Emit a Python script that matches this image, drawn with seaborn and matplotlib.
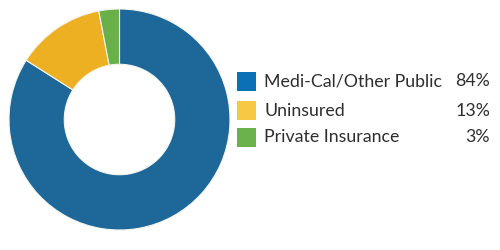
import matplotlib
matplotlib.use("Agg")
import matplotlib.pyplot as plt
from matplotlib.patches import Rectangle
import seaborn as sns

categories = ["Medi-Cal/Other Public", "Uninsured", "Private Insurance"]
shares = [84, 13, 3]
pct_labels = ["84%", "13%", "3%"]

wedge_colors = sns.color_palette(["#1d6899", "#eeb023", "#69b04b"])
key_colors = sns.color_palette(["#0b70b6", "#f7c844", "#6cb24c"])

sns.set_theme(style="white")
plt.rcParams["font.family"] = ["Lato", "DejaVu Sans"]

fig = plt.figure(figsize=(5, 2.5), dpi=100)
fig.patch.set_facecolor("white")

# Donut
ax = fig.add_axes([0.018, 0.08, 0.442, 0.884])
ax.pie(shares, colors=wedge_colors, startangle=90, counterclock=False,
       radius=1.0,
       wedgeprops=dict(width=0.5, edgecolor="#f4f4ee", linewidth=0.8))
ax.set_xlim(-1, 1)
ax.set_ylim(-1, 1)
ax.set_aspect("equal")
ax.axis("off")

# Key with values
kax = fig.add_axes([0, 0, 1, 1])
kax.set_xlim(0, 500)
kax.set_ylim(250, 0)
kax.axis("off")
row_y = [81.5, 110.5, 137.5]
for cat, pct, col, y in zip(categories, pct_labels, key_colors, row_y):
    kax.add_patch(Rectangle((237, y - 9.5), 19, 19, facecolor=col, edgecolor="none"))
    kax.text(264, y, cat, fontsize=12.8, color="#2e2e2e", va="center", ha="left")
    kax.text(490, y, pct, fontsize=12.8, color="#2e2e2e", va="center", ha="right")

fig.savefig("out.png", dpi=100, facecolor="white")
